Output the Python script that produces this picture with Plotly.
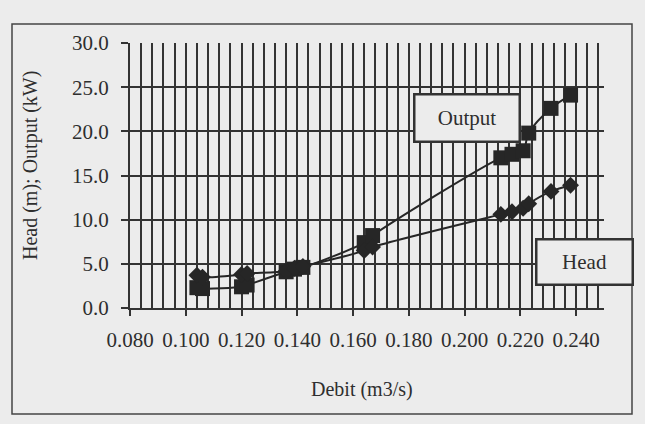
import plotly.graph_objects as go

# ---- data ----
debit = [0.104, 0.106, 0.120, 0.122, 0.136, 0.139, 0.142, 0.164, 0.167,
         0.213, 0.217, 0.221, 0.223, 0.231, 0.238]
output_kw = [2.3, 2.2, 2.4, 2.6, 4.1, 4.4, 4.6, 7.4, 8.2,
             17.0, 17.4, 17.8, 19.8, 22.6, 24.1]
head_m = [3.7, 3.5, 3.8, 3.9, 4.2, 4.5, 4.7, 6.5, 6.9,
          10.6, 10.9, 11.3, 11.8, 13.2, 13.9]
x_ticks = [0.080, 0.100, 0.120, 0.140, 0.160, 0.180, 0.200, 0.220, 0.240]
x_tick_labels = ["0.080", "0.100", "0.120", "0.140", "0.160", "0.180", "0.200", "0.220", "0.240"]
y_ticks = [0, 5, 10, 15, 20, 25, 30]
y_tick_labels = ["0.0", "5.0", "10.0", "15.0", "20.0", "25.0", "30.0"]

W, H = 645, 424
L, R, T, B = 130, 41, 43, 116
PW, PH = W - L - R, H - T - B

def px(x):
    return (x - L) / PW

def py(y):
    return (H - B - y) / PH

FONT = "Liberation Serif"
INK = "#262626"
TXT = "#2e2e2e"
BG = "#ececec"
GRID = "#333333"

fig = go.Figure()
fig.add_trace(go.Scatter(
    x=debit, y=output_kw, mode="lines+markers", name="Output",
    line=dict(color=INK, width=2, shape="spline", smoothing=1.0),
    marker=dict(symbol="square", size=15, color=INK),
))
fig.add_trace(go.Scatter(
    x=debit, y=head_m, mode="lines+markers", name="Head",
    line=dict(color=INK, width=2, shape="spline", smoothing=1.0),
    marker=dict(symbol="diamond", size=13, color=INK),
))

fig.update_layout(
    width=W, height=H, showlegend=False,
    margin=dict(l=L, r=R, t=T, b=B, pad=0),
    paper_bgcolor=BG, plot_bgcolor=BG,
    font=dict(family=FONT, size=21, color=TXT),
    xaxis=dict(
        range=[0.080, 0.250], tickmode="array", tickvals=x_ticks, ticktext=x_tick_labels,
        showgrid=True, gridcolor=GRID, gridwidth=1.6,
        minor=dict(tick0=0.080, dtick=0.004, showgrid=True, gridcolor=GRID, gridwidth=1.6),
        showline=True, linecolor=GRID, linewidth=2,
        ticks="outside", ticklen=6, tickcolor=GRID, tickwidth=1.6,
        ticklabelstandoff=6, zeroline=False,
    ),
    yaxis=dict(
        range=[0, 30], tickmode="array", tickvals=y_ticks, ticktext=y_tick_labels,
        showgrid=True, gridcolor=GRID, gridwidth=1.6,
        showline=True, linecolor=GRID, linewidth=2,
        ticks="outside", ticklen=7, tickcolor=GRID, tickwidth=1.6,
        ticklabelstandoff=8, zeroline=False,
    ),
)

# outer chart frame
fig.add_shape(type="rect", xref="paper", yref="paper",
              x0=px(12), x1=px(632), y0=py(414), y1=py(24),
              line=dict(color="#444444", width=1.5), fillcolor="rgba(0,0,0,0)", layer="below")

# axis titles
fig.add_annotation(text="Head (m); Output (kW)", xref="paper", yref="paper",
                   x=px(30), y=py(166), xanchor="center", yanchor="middle",
                   textangle=-90, showarrow=False,
                   font=dict(family=FONT, size=20, color=TXT))
fig.add_annotation(text="Debit (m3/s)", xref="paper", yref="paper",
                   x=px(362), y=py(389), xanchor="center", yanchor="middle", showarrow=False,
                   font=dict(family=FONT, size=20, color=TXT))

# series label boxes
fig.add_annotation(text="Output", xref="paper", yref="paper",
                   x=px(466.5), y=py(117.5), xanchor="center", yanchor="middle", showarrow=False,
                   width=101, height=43, bgcolor=BG, bordercolor="#333333", borderwidth=2.5,
                   font=dict(family=FONT, size=21, color=TXT))
fig.add_annotation(text="Head", xref="paper", yref="paper",
                   x=px(584), y=py(261.5), xanchor="center", yanchor="middle", showarrow=False,
                   width=92, height=41, bgcolor=BG, bordercolor="#333333", borderwidth=2.5,
                   font=dict(family=FONT, size=21, color=TXT))

fig.write_html("out.html")
